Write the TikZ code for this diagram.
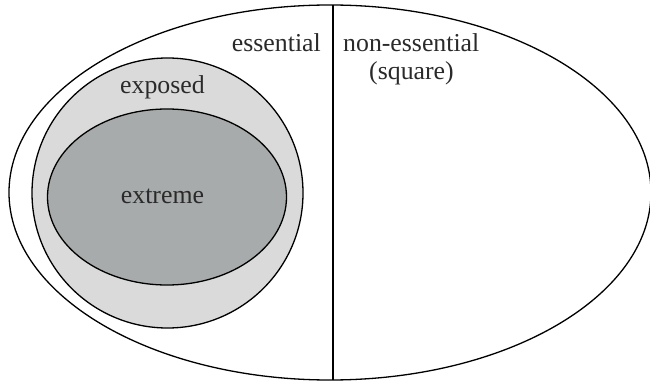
\documentclass[tikz,border=0pt]{standalone}
\usepackage{fontspec}
\setmainfont{Liberation Serif}
\usetikzlibrary{shapes.geometric}
\definecolor{exposedgray}{HTML}{DADADA}
\definecolor{extremegray}{HTML}{A8ABAB}
\definecolor{textgray}{HTML}{2A2A2A}
\begin{document}
\begin{tikzpicture}[x=1pt,y=-1pt,
  region/.style={ellipse,draw=black,line width=1.3pt,inner sep=0pt},
  lbl/.style={inner sep=0pt,text=textgray,font=\fontsize{25.8}{30}\selectfont}]
\useasboundingbox (0,0) rectangle (650,382);
\node[region,minimum width=642,minimum height=375] (outer) at (330,192.5) {};
\node[region,fill=exposedgray,minimum width=271,minimum height=270] (exposed) at (167.5,193) {};
\node[region,fill=extremegray,minimum width=239,minimum height=176] (extreme) at (167,197) {};
\coordinate (ltop) at (333,5);
\coordinate (lbot) at (333,380);
\draw[line width=1.3pt] (ltop) -- (lbot);
\node[lbl,anchor=base east] (ess) at (321,52) {essential};
\node[lbl,anchor=base west] (noness) at (343,52) {non-essential};
\node[lbl,anchor=base] (sq) at (411.5,80) {(square)};
\node[lbl,anchor=base] (exptext) at (162.5,94) {exposed};
\node[lbl,anchor=base] (exttext) at (162.5,204) {extreme};
\end{tikzpicture}
\end{document}
